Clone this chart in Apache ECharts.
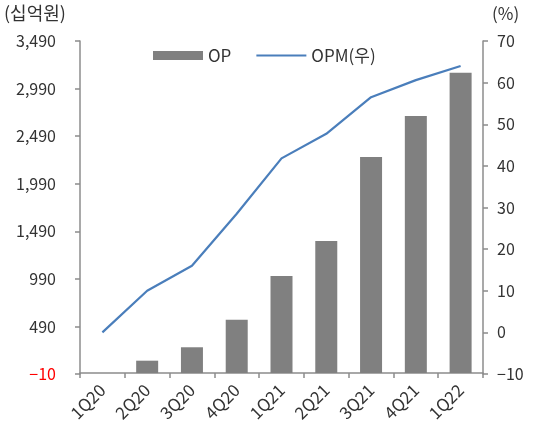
<!DOCTYPE html>
<html>
<head>
<meta charset="utf-8">
<script src="https://cdn.jsdelivr.net/npm/echarts@6/dist/echarts.min.js"></script>
<style>
  html, body { margin: 0; padding: 0; background: #fff; }
  #chart { width: 535px; height: 428px; }
</style>
</head>
<body>
<div id="chart"></div>
<script>
// Quarterly operating profit (십억원) and operating margin (%)
const quarters = ['1Q20', '2Q20', '3Q20', '4Q20', '1Q21', '2Q21', '3Q21', '4Q21', '1Q22'];
const opValues = [0, 130, 271, 561, 1020, 1388, 2272, 2703, 3155];
const opmValues = [0, 10, 16, 28.5, 41.8, 47.7, 56.5, 60.6, 64];
const leftTicks = [-10, 490, 990, 1490, 1990, 2490, 2990, 3490];
const rightTicks = [-10, 0, 10, 20, 30, 40, 50, 60, 70];

const FONT = '"Noto Sans CJK KR", "Noto Sans", sans-serif';
const TEXT = '#333333';
const AXIS = '#8c8c8c';
const LINE = '#4a7ebb';

const chart = echarts.init(document.getElementById('chart'), null, { renderer: 'canvas' });

function withComma(v) {
  return String(v).replace(/\B(?=(\d{3})+(?!\d))/g, ',');
}

chart.setOption({
  animation: false,
  backgroundColor: '#ffffff',
  textStyle: { fontFamily: FONT },
  grid: { left: 80, right: 52, top: 41, height: 333, containLabel: false },
  legend: {
    top: 42,
    left: 148,
    itemWidth: 50,
    itemHeight: 9,
    itemGap: 24,
    textStyle: { fontSize: 17, color: TEXT, fontFamily: FONT },
    data: [
      { name: 'OP', icon: 'rect' },
      { name: 'OPM(우)', itemStyle: { opacity: 0 }, lineStyle: { color: LINE, width: 2 } }
    ]
  },
  graphic: [
    { type: 'text', left: 4, top: 4, style: { text: '(십억원)', fontSize: 18, fill: TEXT, fontFamily: FONT } },
    { type: 'text', left: 492, top: 5, style: { text: '(%)', fontSize: 17, fill: TEXT, fontFamily: FONT } }
  ],
  xAxis: {
    type: 'category',
    data: quarters,
    boundaryGap: true,
    axisLine: { lineStyle: { color: AXIS, width: 1.5 } },
    axisTick: { show: true, length: 5, lineStyle: { color: AXIS, width: 1.5 } },
    axisLabel: { rotate: 45, margin: 13, fontSize: 17, color: TEXT, fontFamily: FONT }
  },
  yAxis: [
    {
      type: 'value',
      min: -10,
      max: 3490,
      position: 'left',
      splitLine: { show: false },
      axisLine: { show: true, lineStyle: { color: AXIS, width: 1.5 } },
      axisTick: { show: true, length: 5, customValues: leftTicks, lineStyle: { color: AXIS, width: 1.5 } },
      axisLabel: {
        customValues: leftTicks,
        margin: 24,
        fontSize: 16,
        color: TEXT,
        fontFamily: FONT,
        formatter: function (v) {
          return v < 0 ? '{neg|−' + withComma(-v) + '}' : withComma(v);
        },
        rich: { neg: { color: '#ff0000', fontSize: 16, fontFamily: FONT } }
      }
    },
    {
      type: 'value',
      min: -10,
      max: 70,
      interval: 10,
      position: 'right',
      splitLine: { show: false },
      axisLine: { show: true, lineStyle: { color: AXIS, width: 1.5 } },
      axisTick: { show: true, length: 5, lineStyle: { color: AXIS, width: 1.5 } },
      axisLabel: {
        customValues: rightTicks,
        margin: 14,
        fontSize: 16,
        color: TEXT,
        fontFamily: FONT,
        formatter: function (v) { return v < 0 ? '−' + (-v) : String(v); }
      }
    }
  ],
  series: [
    {
      name: 'OP',
      type: 'bar',
      yAxisIndex: 0,
      data: opValues,
      barWidth: 22,
      itemStyle: { color: '#808080' }
    },
    {
      name: 'OPM(우)',
      type: 'line',
      yAxisIndex: 1,
      data: opmValues,
      symbol: 'none',
      lineStyle: { color: LINE, width: 2.2 },
      itemStyle: { color: LINE }
    }
  ]
});
</script>
</body>
</html>
